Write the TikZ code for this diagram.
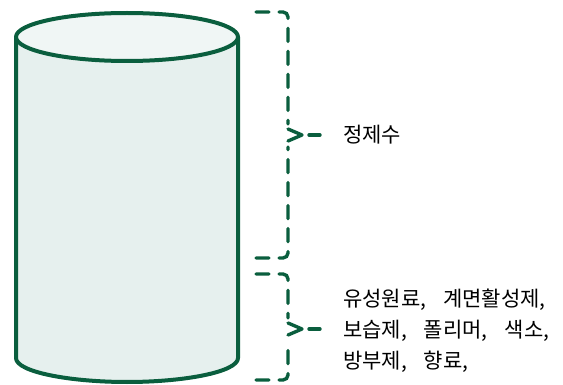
\documentclass[tikz,border=0pt]{standalone}
\usepackage{fontspec}
\newfontfamily\kr{Noto Sans CJK KR}
\definecolor{dg}{HTML}{0A5E3E}
\definecolor{bodyfill}{HTML}{E6F0EE}
\definecolor{topfill}{HTML}{F0F6F5}
\begin{document}
\begin{tikzpicture}[x=1pt,y=-1pt,
  cyl/.style={draw=dg,line width=4pt,line join=round},
  brace/.style={draw=dg,line width=3.4pt,line cap=round,dash pattern=on 13pt off 10pt,rounded corners=5pt},
  chev/.style={draw=dg,line width=3.4pt,line cap=round,line join=round},
  lbl/.style={anchor=west,font=\kr\fontsize{21}{31}\selectfont,align=left,inner sep=0pt}]
\useasboundingbox (0,0) rectangle (563,385);
% cylinder body
\path[cyl,fill=bodyfill] (16,37) -- (16,358) .. controls (16,372) and (70,382) .. (127,382) .. controls (184,382) and (238,372) .. (238,358) -- (238,37);
\path[cyl,fill=topfill] (127,37) ellipse [x radius=111, y radius=24];
% upper brace
\coordinate (b1top) at (256,12);
\coordinate (b1bot) at (256,258);
\coordinate (b1tip) at (302,135);
\coordinate (b1end) at (320,135);
\draw[brace] (b1top) -- (288,12) -- (288,124);
\draw[chev] (288,129) -- (b1tip) -- (288,141);
\draw[brace] (b1bot) -- (288,258) -- (288,147);
\draw[chev] (309,135) -- (b1end);
% lower brace
\coordinate (b2top) at (256,274);
\coordinate (b2bot) at (256,380);
\coordinate (b2tip) at (302,329);
\coordinate (b2end) at (320,329);
\draw[brace] (b2top) -- (288,274) -- (288,318);
\draw[chev] (288,323) -- (b2tip) -- (288,335);
\draw[brace] (b2bot) -- (288,380) -- (288,341);
\draw[chev] (309,329) -- (b2end);
\node[lbl] (t1) at (343,135) {정제수};
\node[lbl] (t2) at (343,331) {유성원료,\hspace{17pt}계면활성제,\\보습제,\hspace{17pt}폴리머,\hspace{17pt}색소,\\방부제,\hspace{17pt}향료,};
\end{tikzpicture}
\end{document}
